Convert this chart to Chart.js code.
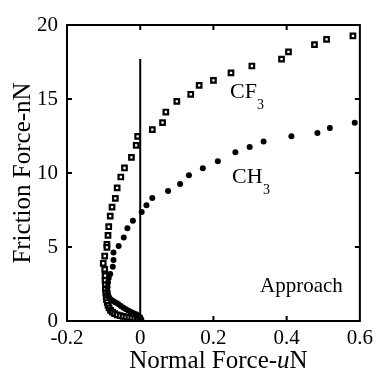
<!DOCTYPE html>
<html>
<head>
<meta charset="utf-8">
<script src="https://cdn.jsdelivr.net/npm/chart.js@4.4.1/dist/chart.umd.min.js"></script>
<style>
  html, body { margin: 0; padding: 0; background: #fff; }
</style>
</head>
<body>
<canvas id="chart" width="378" height="372"></canvas>
<script>
// CF3 (open squares), normal force in uN / friction force in nN
const cf3X = [0.581, 0.509, 0.476, 0.405, 0.386, 0.305, 0.248, 0.200, 0.161, 0.138, 0.100, 0.070, 0.061, 0.033,
  -0.007, -0.011, -0.024, -0.043, -0.053, -0.063, -0.068, -0.077, -0.082, -0.086, -0.088, -0.091, -0.091, -0.097,
  -0.101, -0.097, -0.096, -0.096, -0.095, -0.095, -0.094, -0.093, -0.092, -0.090, -0.088, -0.085, -0.081, -0.076,
  -0.070, -0.063, -0.055, -0.047, -0.039, -0.031, -0.023, -0.015, -0.008, -0.002];
const cf3Y = [19.26, 19.03, 18.67, 18.18, 17.70, 17.23, 16.76, 16.26, 15.92, 15.32, 14.84, 14.12, 13.40, 12.93,
  12.48, 11.87, 11.06, 10.34, 9.73, 8.99, 8.29, 7.70, 7.09, 6.37, 5.79, 5.18, 4.98, 4.39,
  3.90, 3.49, 3.06, 2.75, 2.45, 2.15, 1.90, 1.65, 1.45, 1.25, 1.05, 0.88, 0.72, 0.60,
  0.50, 0.42, 0.36, 0.31, 0.27, 0.24, 0.21, 0.18, 0.15, 0.12];

// CH3 (filled circles)
const ch3X = [0.586, 0.518, 0.484, 0.413, 0.337, 0.299, 0.260, 0.212, 0.171, 0.133, 0.109, 0.076, 0.033, 0.017,
  0.004, -0.020, -0.035, -0.045, -0.059, -0.073, -0.073, -0.075, -0.082, -0.086, -0.088, -0.089, -0.089, -0.088,
  -0.085, -0.080, -0.074, -0.067, -0.060, -0.053, -0.046, -0.039, -0.032, -0.025, -0.018, -0.011, -0.005, 0.000, 0.003];
const ch3Y = [13.40, 13.04, 12.70, 12.48, 12.12, 11.76, 11.40, 10.79, 10.32, 9.84, 9.26, 8.78, 8.31, 7.82,
  7.36, 6.78, 6.26, 5.65, 5.07, 4.62, 4.12, 3.67, 3.18, 2.90, 2.60, 2.30, 2.00, 1.80,
  1.60, 1.45, 1.35, 1.25, 1.15, 1.02, 0.90, 0.80, 0.70, 0.60, 0.52, 0.45, 0.38, 0.25, 0.10];

// vertical zero line
const zeroX = [0, 0];
const zeroY = [0, 17.7];

const xTicks = [-0.2, 0, 0.2, 0.4, 0.6];
const yTicks = [0, 5, 10, 15, 20];

const serif = '"Liberation Serif", "Times New Roman", serif';

function pairs(xs, ys) {
  return xs.map((x, i) => ({ x: x, y: ys[i] }));
}

// frame, inward ticks and text labels
const decorations = {
  id: 'decorations',
  afterDraw(chart) {
    const ctx = chart.ctx;
    const a = chart.chartArea;
    const xs = chart.scales.x;
    const ys = chart.scales.y;
    ctx.save();
    ctx.strokeStyle = '#000';
    ctx.lineWidth = 2;
    ctx.strokeRect(a.left, a.top, a.right - a.left, a.bottom - a.top);

    const tl = 5;
    ctx.beginPath();
    xTicks.slice(1, -1).forEach(v => {
      const px = xs.getPixelForValue(v);
      ctx.moveTo(px, a.bottom); ctx.lineTo(px, a.bottom - tl);
      ctx.moveTo(px, a.top); ctx.lineTo(px, a.top + tl);
    });
    yTicks.slice(1, -1).forEach(v => {
      const py = ys.getPixelForValue(v);
      ctx.moveTo(a.left, py); ctx.lineTo(a.left + tl, py);
      ctx.moveTo(a.right, py); ctx.lineTo(a.right - tl, py);
    });
    ctx.stroke();

    ctx.fillStyle = '#000';
    ctx.textBaseline = 'alphabetic';
    ctx.textAlign = 'left';
    ctx.font = '22px ' + serif;
    ctx.fillText('CF', 230, 98);
    ctx.fillText('CH', 232, 183);
    ctx.font = '21px ' + serif;
    ctx.fillText('Approach', 260, 292);
    ctx.font = '14px ' + serif;
    ctx.fillText('3', 257, 109);
    ctx.fillText('3', 263, 194);

    // x title with italic u
    const parts = [['Normal Force-', ''], ['u', 'italic '], ['N', '']];
    let w = 0;
    parts.forEach(p => { ctx.font = p[1] + '25px ' + serif; w += ctx.measureText(p[0]).width; });
    let x0 = (a.left + a.right) / 2 + 5 - w / 2;
    parts.forEach(p => {
      ctx.font = p[1] + '25px ' + serif;
      ctx.fillText(p[0], x0, 368);
      x0 += ctx.measureText(p[0]).width;
    });

    // y title
    ctx.translate(30, (a.top + a.bottom) / 2);
    ctx.rotate(-Math.PI / 2);
    ctx.textAlign = 'center';
    ctx.font = '25px ' + serif;
    ctx.fillText('Friction Force-nN', 0, 0);
    ctx.restore();
  }
};

new Chart(document.getElementById('chart'), {
  type: 'scatter',
  data: {
    datasets: [
      {
        label: 'zero',
        type: 'line',
        data: pairs(zeroX, zeroY),
        showLine: true,
        borderColor: '#000',
        borderWidth: 2,
        pointRadius: 0
      },
      {
        label: 'CH3',
        data: pairs(ch3X, ch3Y),
        pointStyle: 'circle',
        pointRadius: 3,
        backgroundColor: '#000',
        borderWidth: 0
      },
      {
        label: 'CF3',
        data: pairs(cf3X, cf3Y),
        pointStyle: 'rect',
        pointRadius: 3.2,
        backgroundColor: '#fff',
        borderColor: '#000',
        borderWidth: 2.2
      }
    ]
  },
  options: {
    responsive: false,
    animation: false,
    devicePixelRatio: 1,
    layout: { padding: { top: 25, right: 14, left: 0, bottom: 0 } },
    plugins: { legend: { display: false }, tooltip: { enabled: false } },
    scales: {
      x: {
        type: 'linear',
        min: -0.2,
        max: 0.6,
        afterBuildTicks: s => { s.ticks = xTicks.map(v => ({ value: v })); },
        afterFit: s => { s.height = 51; },
        grid: { display: false, drawTicks: false },
        border: { display: false },
        ticks: {
          color: '#000',
          font: { family: serif, size: 21 },
          padding: 5,
          maxRotation: 0,
          autoSkip: false,
          callback: v => (v === 0 ? '0' : v.toFixed(1))
        }
      },
      y: {
        type: 'linear',
        min: 0,
        max: 20,
        afterBuildTicks: s => { s.ticks = yTicks.map(v => ({ value: v })); },
        afterFit: s => { s.width = 67; },
        grid: { display: false, drawTicks: false },
        border: { display: false },
        ticks: {
          color: '#000',
          font: { family: serif, size: 21 },
          padding: 9,
          autoSkip: false,
          callback: v => String(v)
        }
      }
    }
  },
  plugins: [decorations]
});
</script>
</body>
</html>
